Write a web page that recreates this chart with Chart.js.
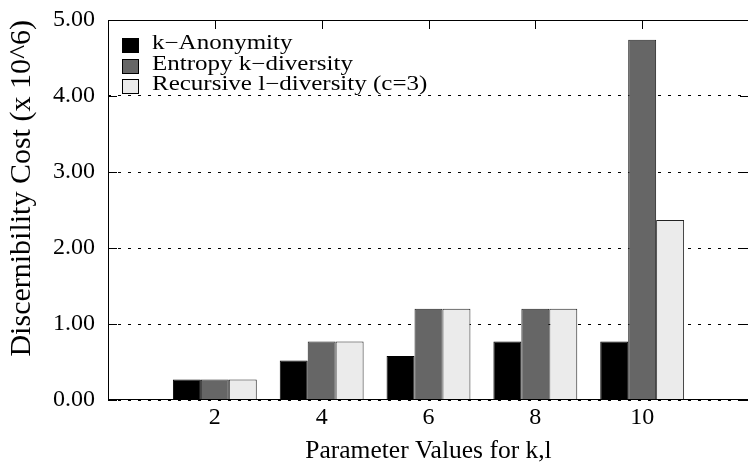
<!DOCTYPE html>
<html lang="en">
<head>
  <meta charset="UTF-8" />
  <title>Discernibility Cost</title>
  <script src="https://cdn.jsdelivr.net/npm/chart.js"></script>
  <style>
    html, body { margin: 0; padding: 0; background: #fff; overflow: hidden; }
    .chart-box { position: relative; width: 752px; height: 472px; }
  </style>
</head>
<body>
  <div class="chart-box">
    <canvas id="costChart"></canvas>
  </div>

  <script>
    // values (cost x 10^6)
    const paramValues = ['2', '4', '6', '8', '10'];
    const kAnonymity = [0.27, 0.52, 0.58, 0.77, 0.77];
    const entropyDiversity = [0.27, 0.77, 1.20, 1.20, 4.74];
    const recursiveDiversity = [0.27, 0.77, 1.20, 1.20, 2.37];
    const seriesNames = ['k\u2212Anonymity', 'Entropy k\u2212diversity', 'Recursive l\u2212diversity (c=3)'];
    const yTicks = [0, 1, 2, 3, 4, 5];

    const serif = '"Liberation Serif", "Times New Roman", serif';

    // blank slots at 0 and 12 so the x range runs 0..12 like the original
    const labels = [''].concat(paramValues, ['']);
    const pad = arr => [null].concat(arr, [null]);

    // frame, inward ticks and the legend box in the top-left corner
    const framePlugin = {
      id: 'frame',
      afterDatasetsDraw(chart) {
        const { ctx, chartArea: a, scales } = chart;
        const x = scales.x, y = scales.y;
        ctx.save();
        ctx.strokeStyle = '#000';
        ctx.lineWidth = 1;
        ctx.setLineDash([]);
        ctx.strokeRect(a.left + 0.5, a.top + 0.5, a.right - a.left - 1, a.bottom - a.top - 1);

        ctx.beginPath();
        y.ticks.forEach(t => {
          const py = Math.round(y.getPixelForValue(t.value)) + 0.5;
          ctx.moveTo(a.left, py); ctx.lineTo(a.left + 9, py);
          ctx.moveTo(a.right - 9, py); ctx.lineTo(a.right, py);
        });
        x.ticks.forEach((t, i) => {
          const px = Math.round(x.getPixelForTick(i)) + 0.5;
          ctx.moveTo(px, a.top); ctx.lineTo(px, a.top + 9);
        });
        ctx.stroke();

        // legend
        const rowH = 20.5;
        chart.data.datasets.forEach((ds, i) => {
          const bx = a.left + 14;
          const by = Math.round(a.top + 18 + rowH * i);
          ctx.fillStyle = ds.backgroundColor;
          ctx.fillRect(bx, by, 17, 15);
          ctx.strokeStyle = '#000';
          ctx.strokeRect(bx + 0.5, by + 0.5, 16, 14);

          ctx.save();
          ctx.fillStyle = '#000';
          ctx.font = '20px ' + serif;
          ctx.textBaseline = 'alphabetic';
          ctx.translate(bx + 30, by + 11);
          ctx.scale(1.25, 1);
          ctx.fillText(ds.label, 0, 0);
          ctx.restore();
        });
        ctx.restore();
      }
    };

    new Chart(document.getElementById('costChart').getContext('2d'), {
      type: 'bar',
      data: {
        labels: labels,
        datasets: [
          { label: seriesNames[0], data: pad(kAnonymity), backgroundColor: '#000000', borderColor: '#000', borderWidth: 1 },
          { label: seriesNames[1], data: pad(entropyDiversity), backgroundColor: '#666666', borderColor: '#222', borderWidth: 1 },
          { label: seriesNames[2], data: pad(recursiveDiversity), backgroundColor: '#ebebeb', borderColor: '#222', borderWidth: 1 }
        ]
      },
      options: {
        responsive: true,
        maintainAspectRatio: false,
        animation: false,
        datasets: {
          bar: { categoryPercentage: 0.785, barPercentage: 1.0 }
        },
        layout: { padding: { top: 20, right: 1, left: 0, bottom: 0 } },
        plugins: {
          legend: { display: false },
          tooltip: { enabled: false }
        },
        scales: {
          x: {
            type: 'category',
            offset: false,
            grid: { display: false, drawTicks: false },
            border: { display: false },
            ticks: {
              color: '#000',
              font: { family: serif, size: 24 },
              padding: 3,
              autoSkip: false,
              maxRotation: 0,
              minRotation: 0
            },
            title: {
              display: true,
              text: 'Parameter Values for k,l',
              color: '#000',
              font: { family: serif, size: 25.5 },
              padding: { top: 0, bottom: 5 }
            },
            afterFit(scale) { scale.height = 72; }
          },
          y: {
            min: yTicks[0],
            max: yTicks[yTicks.length - 1],
            afterBuildTicks(scale) { scale.ticks = yTicks.map(v => ({ value: v })); },
            grid: { color: '#000', lineWidth: 1, drawTicks: true, tickLength: 13, tickColor: 'rgba(0,0,0,0)' },
            border: { display: false, dash: [3, 7] },
            ticks: {
              color: '#000',
              font: { family: serif, size: 24 },
              padding: 0,
              callback: v => Number(v).toFixed(2)
            },
            title: {
              display: true,
              text: 'Discernibility Cost (x 10^6)',
              color: '#000',
              align: 'end',
              font: { family: serif, size: 30 },
              padding: { top: 4, bottom: 0 }
            },
            afterFit(scale) { scale.width = 108; }
          }
        }
      },
      plugins: [framePlugin]
    });
  </script>
</body>
</html>
